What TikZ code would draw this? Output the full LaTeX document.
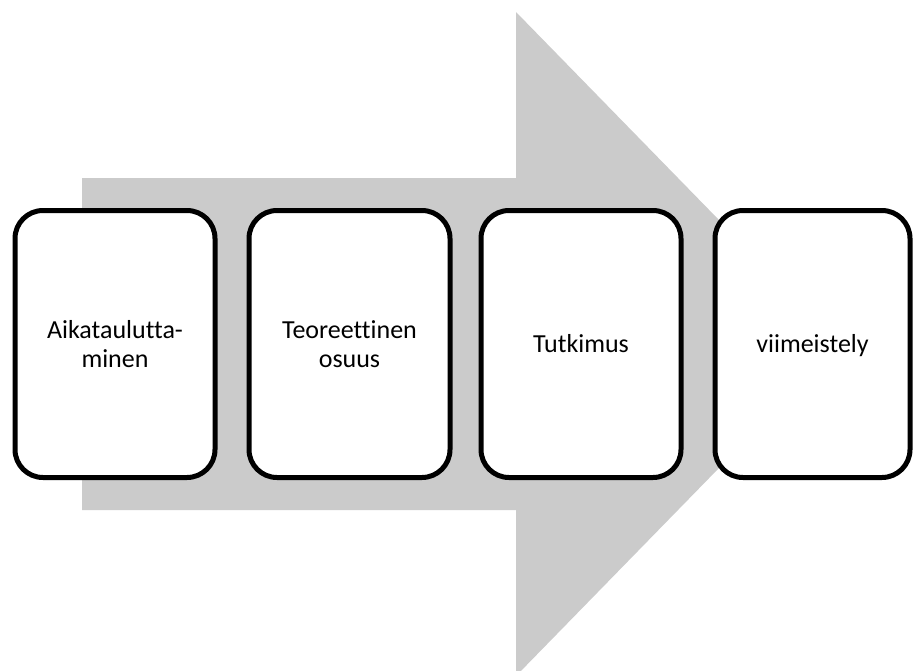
\documentclass[tikz,border=0pt]{standalone}
\usepackage{fontspec}
\setmainfont{Carlito}[Ligatures=CommonOff]
\definecolor{arrowgray}{RGB}{203,203,203}
\begin{document}
\begin{tikzpicture}[x=1pt,y=-1pt,
  stagebox/.style={draw=black, line width=5pt, fill=white, rounded corners=28pt,
    minimum height=267pt, inner sep=2pt, align=center,
    font=\fontsize{26}{28.5}\selectfont},
  oneline/.style={text height=18pt, text depth=2pt}]
  \useasboundingbox (0,0) rectangle (913,670);
  \clip (0,0) rectangle (913,670);
  % big process arrow behind the stages
  \fill[arrowgray] (82,178) -- (516,178) -- (516,12) -- (840,344)
    -- (516,676) -- (516,510) -- (82,510) -- cycle;
  % stages
  \node[stagebox, minimum width=200pt] (s1) at (115,344) {Aikataulutta-\\minen};
  \node[stagebox, minimum width=201pt] (s2) at (349.5,344) {Teoreettinen\\osuus};
  \node[stagebox, oneline, minimum width=200pt] (s3) at (581,344) {Tutkimus};
  \node[stagebox, oneline, minimum width=195pt] (s4) at (812.5,344) {viimeistely};
\end{tikzpicture}
\end{document}
